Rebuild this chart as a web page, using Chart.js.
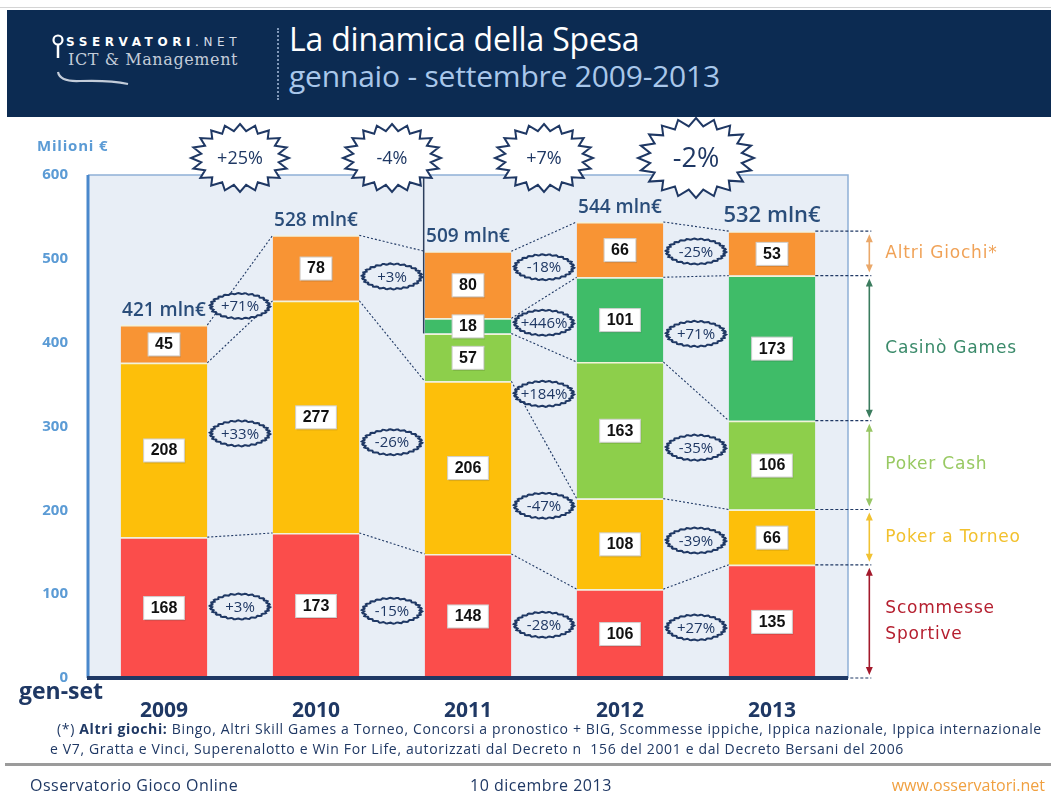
<!DOCTYPE html>
<html>
<head>
<meta charset="utf-8">
<script src="https://cdn.jsdelivr.net/npm/chart.js@4/dist/chart.umd.min.js"></script>
<style>
body { margin: 0; background: #fff; font-family: "Open Sans", sans-serif; }
#page { position: relative; width: 1051px; height: 794px; overflow: hidden; }
#chart { position: absolute; left: 0; top: 0; }
.abs { position: absolute; white-space: nowrap; }
#topline { left: 0; top: 7px; width: 1051px; height: 1px; background: #d4d4d4; }
#head { left: 7px; top: 10px; width: 1044px; height: 107px; background: #0c2b52; }
#sep { left: 277px; top: 28px; height: 72px; border-left: 2px dotted #7f97b8; }
#t1 { left: 289px; top: 17px; font-size: 32px; color: #fff; letter-spacing: -0.2px; }
#t2 { left: 289px; top: 55px; font-size: 30px; color: #a9c7ea; letter-spacing: -0.2px; }
#logo1 { left: 66px; top: 35px; font-family: "DejaVu Sans", sans-serif; font-size: 12px; color: #fff; letter-spacing: 4.6px; }
#logo1 span { font-weight: normal; color: #d6dde8; }
#logo2 { left: 68px; top: 50px; font-family: "DejaVu Serif", serif; font-size: 16px; color: #c3ccd9; letter-spacing: 0.6px; }
#milioni { left: 37px; top: 135px; font-size: 15px; font-weight: bold; color: #5b9bd5; letter-spacing: 0.8px; }
#genset { left: 19px; top: 674px; font-size: 23px; font-weight: bold; color: #1f3864; }
.note { font-size: 14px; color: #1f3864; letter-spacing: 0.65px; }
#note1 { left: 57px; top: 719px; }
#note2 { left: 50px; top: 739px; }
#footline { left: 5px; top: 763px; width: 1046px; height: 3px; background: #9b9b9b; }
.foot { top: 774px; font-size: 16px; color: #1f3864; letter-spacing: 0.5px; }
#f1 { left: 30px; }
#f2 { left: 470px; }
#f3 { right: 6px; color: #f0a040; letter-spacing: 0; }
</style>
</head>
<body>
<div id="page">
  <canvas id="chart" width="1051" height="794"></canvas>
  <div class="abs" id="topline"></div>
  <div class="abs" id="head"></div>
  <svg class="abs" style="left:0;top:0" width="280" height="117">
    <circle cx="58" cy="40" r="4.5" fill="none" stroke="#fff" stroke-width="2.2"/>
    <line x1="58" y1="45" x2="58" y2="58" stroke="#fff" stroke-width="2.5"/>
    <path d="M58 72 Q60 82 80 81 Q110 80 128 84" fill="none" stroke="#c3ccd9" stroke-width="2.2"/>
  </svg>
  <div class="abs" id="logo1"><b>SSERVATORI</b><span>.NET</span></div>
  <div class="abs" id="logo2">ICT &amp; Management</div>
  <div class="abs" id="sep"></div>
  <div class="abs" id="t1">La dinamica della Spesa</div>
  <div class="abs" id="t2">gennaio - settembre 2009-2013</div>
  <div class="abs" id="milioni">Milioni €</div>
  <div class="abs" id="genset">gen-set</div>
  <div class="abs note" id="note1">(*) <b>Altri giochi:</b> Bingo, Altri Skill Games a Torneo, Concorsi a pronostico + BIG, Scommesse ippiche, Ippica nazionale, Ippica internazionale</div>
  <div class="abs note" id="note2">e V7, Gratta e Vinci, Superenalotto e Win For Life, autorizzati dal Decreto n&nbsp; 156 del 2001 e dal Decreto Bersani del 2006</div>
  <div class="abs" id="footline"></div>
  <div class="abs foot" id="f1">Osservatorio Gioco Online</div>
  <div class="abs foot" id="f2">10 dicembre 2013</div>
  <div class="abs foot" id="f3">www.osservatori.net</div>
</div>
<script>
// data (milioni di euro, gennaio-settembre)
const years = ['2009', '2010', '2011', '2012', '2013'];
const scommesse = [168, 173, 148, 106, 135];
const pokerTorneo = [208, 277, 206, 108, 66];
const pokerCash = [0, 0, 57, 163, 106];
const casinoGames = [0, 0, 18, 101, 173];
const altriGiochi = [45, 78, 80, 66, 53];
const totalLabels = ['421 mln€', '528 mln€', '509 mln€', '544 mln€', '532 mln€'];
const yearChange = ['+25%', '-4%', '+7%', '-2%'];
const chgScommesse = ['+3%', '-15%', '-28%', '+27%'];
const chgTorneo = ['+33%', '-26%', '-47%', '-39%'];
const chgCash = [null, null, '+184%', '-35%'];
const chgCasino = [null, null, '+446%', '+71%'];
const chgAltri = ['+71%', '+3%', '-18%', '-25%'];
const seriesNames = ['Scommesse Sportive', 'Poker a Torneo', 'Poker Cash', 'Casinò Games', 'Altri Giochi*'];
const yMax = 600;
const yStep = 100;

const barColors = ['#fb4d4b', '#fdbf0a', '#8dcf4b', '#3fbc68', '#f89434'];
const legendColors = ['#b51f2f', '#f2c12e', '#98c962', '#3a8a6a', '#f0a257'];
const arrowColors = ['#a3192b', '#f1c232', '#98c665', '#3b7c5e', '#eaa86a'];
const navy = '#1f3864';
const plotBg = '#e8eef6';

const values = [scommesse, pokerTorneo, pokerCash, casinoGames, altriGiochi];
const changes = [chgScommesse, chgTorneo, chgCash, chgCasino, chgAltri];

function starPath(ctx, cx, cy, rx, ry, n) {
    ctx.beginPath();
    for (let k = 0; k < n * 2; k++) {
        const a = -Math.PI / 2 + k * Math.PI / n;
        const f = k % 2 === 0 ? 1 : 0.8;
        const x = cx + Math.cos(a) * rx * f;
        const y = cy + Math.sin(a) * ry * f;
        if (k === 0) ctx.moveTo(x, y); else ctx.lineTo(x, y);
    }
    ctx.closePath();
}

function wavyEllipse(ctx, cx, cy, rx, ry) {
    ctx.beginPath();
    for (let k = 0; k <= 120; k++) {
        const t = k / 120 * Math.PI * 2;
        const s = 1 + 0.045 * Math.sin(t * 26);
        const x = cx + Math.cos(t) * rx * s;
        const y = cy + Math.sin(t) * ry * s;
        if (k === 0) ctx.moveTo(x, y); else ctx.lineTo(x, y);
    }
    ctx.closePath();
}

const decor = {
    id: 'decor',
    beforeDatasetsDraw(chart) {
        const { ctx, chartArea: a } = chart;
        ctx.save();
        ctx.fillStyle = plotBg;
        ctx.fillRect(a.left, a.top, a.right - a.left, a.bottom - a.top);
        ctx.strokeStyle = '#8fb0d6';
        ctx.lineWidth = 1.5;
        ctx.beginPath();
        ctx.moveTo(a.left, a.top);
        ctx.lineTo(a.right, a.top);
        ctx.lineTo(a.right, a.bottom);
        ctx.stroke();

        // connector lines between consecutive bars
        ctx.strokeStyle = navy;
        ctx.lineWidth = 1.1;
        ctx.setLineDash([2, 2]);
        for (let i = 0; i < years.length - 1; i++) {
            values.forEach((arr, s) => {
                if (!arr[i] || !arr[i + 1]) return;
                const m = chart.getDatasetMeta(s);
                const b1 = m.data[i], b2 = m.data[i + 1];
                ctx.beginPath();
                ctx.moveTo(b1.x + b1.width / 2, b1.y);
                ctx.lineTo(b2.x - b2.width / 2, b2.y);
                ctx.stroke();
            });
        }
        ctx.setLineDash([]);
        ctx.restore();
    },
    afterDatasetsDraw(chart) {
        const { ctx, chartArea: a } = chart;
        const yScale = chart.scales.y;
        ctx.save();

        // frame line on the left of the 2011 bar
        const c2011 = chart.getDatasetMeta(3).data[2];
        ctx.strokeStyle = '#2c3e5c';
        ctx.lineWidth = 1.5;
        ctx.beginPath();
        ctx.moveTo(c2011.x - c2011.width / 2 - 1, a.top);
        ctx.lineTo(c2011.x - c2011.width / 2 - 1, c2011.base);
        ctx.stroke();

        // value boxes
        ctx.font = 'bold 16px "Liberation Sans", Arial, sans-serif';
        ctx.textAlign = 'center';
        ctx.textBaseline = 'middle';
        values.forEach((arr, s) => {
            const m = chart.getDatasetMeta(s);
            arr.forEach((v, i) => {
                if (!v) return;
                const b = m.data[i];
                const cy = (b.y + b.base) / 2;
                const w = ctx.measureText(String(v)).width + 14;
                ctx.fillStyle = 'rgba(0,0,0,0.12)';
                ctx.fillRect(b.x - w / 2 + 1, cy - 11 + 1.5, w, 23);
                ctx.fillStyle = '#fff';
                ctx.fillRect(b.x - w / 2, cy - 11, w, 23);
                ctx.strokeStyle = '#cfcfcf';
                ctx.lineWidth = 1;
                ctx.strokeRect(b.x - w / 2, cy - 11, w, 23);
                ctx.fillStyle = '#111';
                ctx.fillText(String(v), b.x, cy + 1);
            });
        });

        // growth ellipses between bars
        ctx.font = '15px "Open Sans", sans-serif';
        changes.forEach((arr, s) => {
            const m = chart.getDatasetMeta(s);
            arr.forEach((txt, i) => {
                if (!txt) return;
                const b1 = m.data[i], b2 = m.data[i + 1];
                const cx = (b1.x + b2.x) / 2;
                const cy = ((b1.y + b1.base) / 2 + (b2.y + b2.base) / 2) / 2;
                wavyEllipse(ctx, cx, cy, 29, 12.5);
                ctx.fillStyle = plotBg;
                ctx.fill();
                ctx.strokeStyle = navy;
                ctx.lineWidth = 2;
                ctx.stroke();
                ctx.fillStyle = navy;
                ctx.fillText(txt, cx, cy + 1);
            });
        });

        // totals above bars
        const top = chart.getDatasetMeta(values.length - 1);
        ctx.fillStyle = '#2a4d7a';
        ctx.textBaseline = 'alphabetic';
        totalLabels.forEach((t, i) => {
            const b = top.data[i];
            const last = i === totalLabels.length - 1;
            ctx.font = (last ? '600 22px' : '600 19px') + ' "Open Sans", sans-serif';
            ctx.fillText(t, b.x, b.y - 9);
        });

        // yearly change starbursts
        const base = chart.getDatasetMeta(0);
        ctx.textBaseline = 'middle';
        yearChange.forEach((t, i) => {
            const cx = (base.data[i].x + base.data[i + 1].x) / 2;
            const big = i === yearChange.length - 1;
            const cy = a.top - 17;
            starPath(ctx, cx, cy, big ? 58 : 49, big ? 40 : 34, 20);
            ctx.fillStyle = '#fff';
            ctx.fill();
            ctx.strokeStyle = navy;
            ctx.lineWidth = 2;
            ctx.stroke();
            ctx.fillStyle = navy;
            ctx.font = (big ? '27px' : '18px') + ' "Open Sans", sans-serif';
            ctx.fillText(t, cx, cy + 1);
        });

        // right hand legend with brackets on the 2013 bar
        const li = years.length - 1;
        const x0 = top.data[li].x + top.data[li].width / 2;
        const ax = x0 + 54;
        ctx.strokeStyle = navy;
        ctx.lineWidth = 1.2;
        ctx.setLineDash([3, 2]);
        const ys = [base.data[li].base];
        values.forEach((arr, s) => ys.push(chart.getDatasetMeta(s).data[li].y));
        ys.forEach(y => {
            ctx.beginPath();
            ctx.moveTo(x0, y);
            ctx.lineTo(x0 + 56, y);
            ctx.stroke();
        });
        ctx.setLineDash([]);
        ctx.textAlign = 'left';
        ctx.font = '17px "DejaVu Sans", sans-serif';
        ctx.letterSpacing = '0.8px';
        seriesNames.forEach((name, s) => {
            const b = chart.getDatasetMeta(s).data[li];
            const y1 = b.y + 3, y2 = b.base - 3;
            ctx.strokeStyle = arrowColors[s];
            ctx.fillStyle = arrowColors[s];
            ctx.lineWidth = 1.6;
            ctx.beginPath();
            ctx.moveTo(ax, y1 + 4);
            ctx.lineTo(ax, y2 - 4);
            ctx.stroke();
            ctx.beginPath();
            ctx.moveTo(ax, y1); ctx.lineTo(ax - 3.5, y1 + 8); ctx.lineTo(ax + 3.5, y1 + 8); ctx.closePath();
            ctx.moveTo(ax, y2); ctx.lineTo(ax - 3.5, y2 - 8); ctx.lineTo(ax + 3.5, y2 - 8); ctx.closePath();
            ctx.fill();
            ctx.fillStyle = legendColors[s];
            const mid = (b.y + b.base) / 2;
            const parts = name === 'Scommesse Sportive' ? ['Scommesse', 'Sportive'] : [name];
            parts.forEach((p, k) => {
                ctx.fillText(p, x0 + 70, mid + (k - (parts.length - 1) / 2) * 26);
            });
        });
        ctx.letterSpacing = '0px';

        // axis lines
        ctx.strokeStyle = '#4a88cc';
        ctx.lineWidth = 3;
        ctx.beginPath();
        ctx.moveTo(a.left, a.top);
        ctx.lineTo(a.left, a.bottom);
        ctx.stroke();
        ctx.strokeStyle = navy;
        ctx.lineWidth = 4;
        ctx.beginPath();
        ctx.moveTo(a.left - 1, yScale.getPixelForValue(0));
        ctx.lineTo(a.right, yScale.getPixelForValue(0));
        ctx.stroke();
        ctx.restore();
    }
};

new Chart(document.getElementById('chart'), {
    type: 'bar',
    data: {
        labels: years,
        datasets: values.map((arr, s) => ({
            label: seriesNames[s],
            data: arr,
            backgroundColor: barColors[s],
            borderColor: '#f3f3d8',
            borderWidth: { top: 1.5 },
            borderSkipped: 'bottom',
            barPercentage: 0.57,
            categoryPercentage: 1
        }))
    },
    options: {
        responsive: false,
        animation: false,
        devicePixelRatio: 1,
        layout: { padding: { left: 38, top: 175, right: 203, bottom: 71 } },
        plugins: { legend: { display: false }, tooltip: { enabled: false } },
        scales: {
            x: {
                stacked: true,
                grid: { display: false, drawTicks: false },
                border: { display: false },
                ticks: { color: navy, padding: 20, font: { family: 'Open Sans', size: 21, weight: 'bold' } },
                afterFit(scale) { scale.height = 45; }
            },
            y: {
                stacked: true,
                min: 0,
                max: yMax,
                grid: { display: false, drawTicks: false },
                border: { display: false },
                ticks: { stepSize: yStep, color: '#5b9bd5', padding: 20, font: { family: 'Open Sans', size: 15, weight: 'bold' } },
                afterFit(scale) { scale.width = 50; }
            }
        }
    },
    plugins: [decor]
});
</script>
</body>
</html>
